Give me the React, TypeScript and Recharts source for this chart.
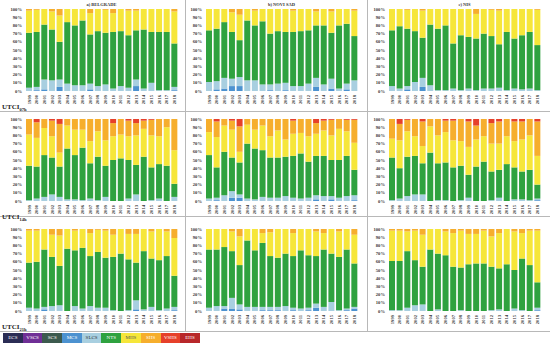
import React from 'react';
import { BarChart, Bar, XAxis, YAxis } from 'recharts';

const years = ['1999','2000','2001','2002','2003','2004','2005','2006','2007','2008','2009','2010','2011','2012','2013','2014','2015','2016','2017','2018'];
const seriesNames = ['ECS','VSCS','SCS','MCS','SLCS','NTS','MHS','SHS','VSHS','EHS'];
const seriesColors = ['#2b2d55','#6f2f96','#3c5a4e','#4c92d0','#a8cfe0','#2fa23f','#f6e63a','#f6ae2d','#e6402a','#b8282a'];
const legendText = ['#fff','#fff','#fff','#fff','#333','#fff','#555','#fff','#fff','#fff'];
const yTicks = [0,10,20,30,40,50,60,70,80,90,100];
const noVshs = [100,100,100,100,100,100,100,100,100,100,100,100,100,100,100,100,100,100,100,100];
const zeros = [0,0,0,0,0,0,0,0,0,0,0,0,0,0,0,0,0,0,0,0];

// boundaries: mcs top, cold (MCS+SLCS) top, NTS top, MHS top, SHS top (percent)
const bg07Mcs = [0,1,2,0,5,0,0,0,2,0,0,0,0,0,6,0,0,0,0,1];
const bg07Cold = [4,5,14,13,14,9,7,7,9,6,8,3,6,4,14,3,10,1,1,5];
const bg07Nts = [71,72,81,75,60,84,80,86,69,73,71,72,73,68,74,75,72,72,72,58];
const bg07Mhs = [98,99,100,97,92,100,100,100,95,100,99,95,100,98,98,100,100,100,100,97];

const ns07Mcs = [0,2,3,6,6,0,0,0,1,0,1,0,0,0,5,0,3,0,2,0];
const ns07Cold = [11,12,16,15,17,13,13,8,8,9,10,6,6,9,16,8,15,3,9,13];
const ns07Nts = [74,76,84,72,62,86,80,85,70,73,72,72,73,74,80,80,71,80,82,67];
const ns07Mhs = [100,100,100,96,93,100,98,100,100,100,100,98,100,100,97,100,97,100,100,98];

const ni07Mcs = [0,0,2,0,5,0,0,0,0,0,0,0,0,0,0,0,0,0,0,0];
const ni07Cold = [6,3,6,11,16,7,1,1,3,1,3,1,3,3,4,1,3,2,3,1];
const ni07Nts = [74,79,76,73,65,81,76,80,58,68,66,64,70,67,57,72,64,68,72,56];
const ni07Mhs = [100,100,99,100,98,100,100,100,100,100,100,94,100,99,98,100,100,100,100,99];

const bg14Cold = [1,3,5,8,5,2,2,1,3,1,5,0,0,3,8,0,1,3,0,5];
const bg14Nts = [43,42,56,53,42,64,56,65,46,54,43,50,52,50,44,54,41,45,43,21];
const bg14Mhs = [81,77,89,79,59,92,87,87,73,85,74,79,81,79,80,88,80,79,90,62];
const bg14Shs = [100,96,100,98,94,100,100,100,100,100,100,95,100,98,95,98,99,100,100,100];

const ns14Mcs = [0,1,0,4,4,0,0,0,0,0,0,0,0,0,2,0,2,0,0,1];
const ns14Cold = [3,4,7,12,8,3,2,5,4,4,6,4,3,4,7,6,6,4,6,7];
const ns14Nts = [56,41,60,53,47,70,64,62,53,53,54,55,58,48,55,55,50,50,55,38];
const ns14Mhs = [84,78,92,87,60,93,87,92,79,86,75,82,83,79,82,86,80,88,85,71];
const ns14Shs = [100,97,100,98,91,100,100,100,100,100,100,98,100,100,95,98,99,100,99,99];

const ni14Mcs = [0,0,0,0,0,0,0,0,0,0,0,0,0,0,0,0,0,0,0,1];
const ni14Cold = [1,3,6,8,8,0,1,1,0,1,4,0,0,1,4,0,2,2,1,3];
const ni14Nts = [53,40,54,55,46,59,46,47,41,43,32,42,48,36,38,45,41,36,38,20];
const ni14Mhs = [76,74,85,79,67,91,80,84,74,73,66,75,79,70,70,79,73,75,80,55];
const ni14Shs = [100,94,99,100,97,100,100,98,98,100,97,92,100,95,97,100,97,97,100,97];

const bg21Mcs = [0,0,2,0,0,0,0,0,0,0,0,0,0,0,2,0,0,0,0,1];
const bg21Cold = [4,3,5,6,7,0,6,3,6,4,4,1,0,1,13,2,5,1,3,5];
const bg21Nts = [59,60,75,66,55,76,74,77,67,72,65,66,70,63,59,73,64,62,67,43];
const bg21Mhs = [98,98,100,93,92,100,98,100,95,99,98,93,100,94,94,100,97,100,97,89];

const ns21Mcs = [0,0,3,3,2,0,0,1,1,1,0,1,0,1,4,0,0,0,1,3];
const ns21Cold = [4,6,6,16,8,5,5,5,5,5,6,4,3,4,9,5,11,1,3,5];
const ns21Nts = [75,75,78,73,56,86,74,83,67,65,70,67,74,68,67,75,70,66,75,58];
const ns21Mhs = [100,100,100,97,91,100,100,95,96,100,100,95,100,100,97,95,100,97,100,93];

const ni21Mcs = [0,0,0,0,0,0,0,0,0,0,0,0,0,0,0,0,0,0,0,1];
const ni21Cold = [1,1,4,7,8,0,2,0,0,1,0,0,0,1,2,0,3,1,0,4];
const ni21Nts = [61,61,73,62,54,75,70,68,54,53,57,58,58,54,52,57,50,64,56,35];
const ni21Mhs = [98,98,97,98,93,100,100,97,95,98,94,94,98,91,95,100,97,95,98,98];

const cities = ['a) BELGRADE', 'b) NOVI SAD', 'c) NIŠ'];
const hours = ['07h', '14h', '21h'];

function build(mcs: number[], cold: number[], nts: number[], mhs: number[], shs: number[]) {
  return years.map((y, i) => ({
    year: y,
    ECS: 0, VSCS: 0, SCS: 0,
    MCS: mcs[i],
    SLCS: cold[i] - mcs[i],
    NTS: nts[i] - cold[i],
    MHS: mhs[i] - nts[i],
    SHS: shs[i] - mhs[i],
    VSHS: 100 - shs[i],
    EHS: 0,
  }));
}

const panels = [
  [build(bg07Mcs, bg07Cold, bg07Nts, bg07Mhs, noVshs), build(ns07Mcs, ns07Cold, ns07Nts, ns07Mhs, noVshs), build(ni07Mcs, ni07Cold, ni07Nts, ni07Mhs, noVshs)],
  [build(zeros, bg14Cold, bg14Nts, bg14Mhs, bg14Shs), build(ns14Mcs, ns14Cold, ns14Nts, ns14Mhs, ns14Shs), build(ni14Mcs, ni14Cold, ni14Nts, ni14Mhs, ni14Shs)],
  [build(bg21Mcs, bg21Cold, bg21Nts, bg21Mhs, noVshs), build(ns21Mcs, ns21Cold, ns21Nts, ns21Mhs, noVshs), build(ni21Mcs, ni21Cold, ni21Nts, ni21Mhs, noVshs)],
];

const plotLefts = [25, 205, 388];
const plotTops = [9, 119, 229];
const plotW = 153;
const plotH = 82;
const yAxisW = 22;
const xAxisH = 20;
const topPad = 4;
const font = "'Liberation Serif', 'DejaVu Serif', serif";

const tickStyle = { fontSize: 4.6, fontWeight: 700, fill: '#333', fontFamily: font };

function Panel({ data, left, top }: { data: any[]; left: number; top: number }) {
  return (
    <div style={{ position: 'absolute', left: left - yAxisW, top: top - topPad }}>
      <BarChart
        width={yAxisW + plotW + 2}
        height={plotH + xAxisH + topPad}
        data={data}
        margin={{ top: topPad, right: 2, left: 0, bottom: 0 }}
        barCategoryGap="13%"
      >
        <XAxis
          dataKey="year"
          interval={0}
          height={xAxisH}
          tickLine={false}
          axisLine={false}
          tickSize={2}
          angle={-90}
          textAnchor="end"
          dx={-1.5}
          tick={tickStyle}
        />
        <YAxis
          width={yAxisW}
          domain={[0, 100]}
          ticks={yTicks}
          tickFormatter={(v: number) => `${v}%`}
          tickLine={false}
          axisLine={false}
          tickSize={2}
          tickMargin={1}
          interval={0}
          tick={tickStyle}
        />
        {seriesNames.map((s, k) => (
          <Bar key={s} dataKey={s} stackId="a" fill={seriesColors[k]} isAnimationActive={false} />
        ))}
      </BarChart>
    </div>
  );
}

export default function App() {
  const lineColor = '#b8b8b8';
  return (
    <div style={{ position: 'absolute', left: 0, top: 0, width: 550, height: 345, background: '#fff', overflow: 'hidden', fontFamily: font }}>
      {/* grid frame */}
      <div style={{ position: 'absolute', left: 185, top: 0, width: 1, height: 331, background: lineColor }} />
      <div style={{ position: 'absolute', left: 367, top: 0, width: 1, height: 331, background: lineColor }} />
      <div style={{ position: 'absolute', left: 0, top: 111, width: 550, height: 1, background: lineColor }} />
      <div style={{ position: 'absolute', left: 0, top: 216, width: 550, height: 1, background: lineColor }} />
      <div style={{ position: 'absolute', left: 0, top: 331, width: 550, height: 1, background: lineColor }} />

      {panels.map((row, r) =>
        row.map((data, c) => (
          <Panel key={`${r}-${c}`} data={data} left={plotLefts[c]} top={plotTops[r]} />
        ))
      )}

      {cities.map((t, c) => (
        <div key={t} style={{ position: 'absolute', left: plotLefts[c], top: 2, width: plotW, textAlign: 'center', fontSize: 4.5, fontWeight: 700, color: '#333', lineHeight: '5px' }}>
          {t}
        </div>
      ))}

      {hours.map((h, r) => (
        <div key={h} style={{ position: 'absolute', left: 2, top: plotTops[r] + 94, fontSize: 7, fontWeight: 700, color: '#222', lineHeight: '8px', whiteSpace: 'nowrap' }}>
          UTCI<span style={{ fontSize: 4.5, verticalAlign: '-1.5px' }}>{h}</span>
        </div>
      ))}

      <div style={{ position: 'absolute', left: 3, top: 333, height: 10, display: 'flex' }}>
        {seriesNames.map((s, k) => (
          <div key={s} style={{ width: 19.7, height: 10, background: seriesColors[k], color: legendText[k], fontSize: 5, lineHeight: '10px', textAlign: 'center' }}>
            {s}
          </div>
        ))}
      </div>
    </div>
  );
}
